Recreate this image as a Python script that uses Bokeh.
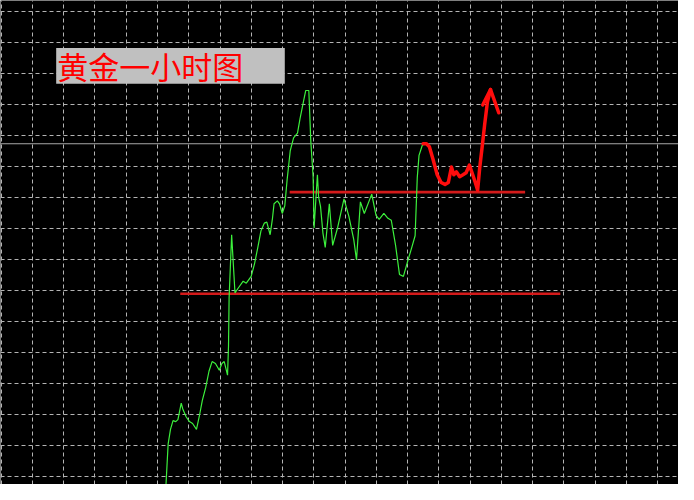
import numpy as np
from bokeh.plotting import figure
from bokeh.models import Range1d, FixedTicker, Span, Label, BoxAnnotation
from bokeh.embed import file_html
from bokeh.resources import INLINE

# ---- data (hour index, gold price) ----
hours = [84.7, 85.8, 87.0, 88.3, 89.7, 90.8, 92.5, 93.3, 95.0, 96.7, 98.3, 100.3,
         101.7, 103.3, 105.0, 106.7, 108.3, 110.0, 112.0, 113.3, 114.5, 116.2,
         116.7, 117.0, 118.3, 120.0, 121.7, 124.2, 125.8, 128.3, 130.0, 131.7,
         133.3, 135.0, 136.3, 138.0, 139.2, 140.0, 141.7, 142.8, 144.2, 145.5,
         146.7, 148.3, 150.0, 152.0, 153.3, 155.0, 156.2, 157.8, 158.8, 160.0,
         160.5, 161.2, 162.2, 162.8, 163.8, 165.0, 166.2, 168.3, 170.0, 172.5,
         175.8, 178.3, 180.8, 182.2, 184.2, 186.2, 190.0, 192.2, 193.8, 196.2,
         198.3, 200.0, 202.2, 204.2, 206.2, 208.3, 210.5, 212.2, 213.3, 214.2,
         215.8, 217.2]
close = [1310.0, 1314.2, 1315.7, 1316.6, 1316.5, 1316.7, 1318.4, 1317.8, 1317.0,
         1316.5, 1316.3, 1315.7, 1317.0, 1318.7, 1320.0, 1321.7, 1322.7, 1322.5,
         1321.8, 1322.5, 1322.7, 1321.3, 1324.3, 1329.3, 1335.8, 1329.8, 1330.3,
         1331.0, 1330.8, 1331.5, 1332.8, 1334.5, 1336.2, 1337.0, 1337.1, 1335.8,
         1337.5, 1339.0, 1339.3, 1339.0, 1338.0, 1338.8, 1341.5, 1344.5, 1345.8,
         1346.3, 1347.8, 1349.5, 1350.7, 1350.7, 1345.5, 1341.8, 1336.5, 1338.8,
         1342.0, 1339.7, 1338.7, 1336.0, 1334.5, 1339.0, 1334.7, 1336.5, 1339.5,
         1337.7, 1335.3, 1333.2, 1339.2, 1338.0, 1340.0, 1337.8, 1337.4, 1338.0,
         1337.5, 1337.3, 1334.7, 1331.7, 1331.5, 1333.0, 1334.5, 1335.7, 1341.7,
         1344.0, 1345.0, 1345.3]

forecast_hours = [216.3, 218.0, 219.5, 221.5, 223.5, 225.5, 227.5, 229.2, 230.8,
                  232.0, 233.3, 235.0, 236.7, 238.3, 240.0, 241.7, 243.0, 244.2,
                  245.3, 246.7, 247.8, 249.2, 250.8]
forecast_price = [1345.2, 1345.2, 1344.9, 1343.5, 1342.0, 1341.2, 1341.0, 1341.2,
                  1342.8, 1342.0, 1342.3, 1341.8, 1342.0, 1342.2, 1343.0, 1342.0,
                  1341.2, 1340.4, 1342.8, 1345.2, 1347.2, 1349.5, 1350.8]
arrow_head_hours = [246.8, 250.8, 255.0]
arrow_head_price = [1349.2, 1350.8, 1348.4]

level_price = [1340.2, 1329.7]
level_start = [148.0, 92.0]
level_end = [268.5, 286.5]

current_price = 1345.2
title_text = "黄金一小时图"
title_box = dict(left=28.5, right=145.5, bottom=1351.4, top=1355.1)

# ---- figure ----
p = figure(width=678, height=484, output_backend="svg", toolbar_location=None,
           x_range=Range1d(0, 347), y_range=Range1d(1310.0, 1360.0),
           x_axis_location=None, y_axis_location=None, min_border=0,
           background_fill_color="black", border_fill_color="black")
p.outline_line_color = None

p.xgrid.ticker = FixedTicker(ticks=list(0.35 + 16 * np.arange(0, 23)))
p.ygrid.ticker = FixedTicker(ticks=list(1358.87 - 3.2 * np.arange(0, 17)))
for g in (p.xgrid, p.ygrid):
    g.grid_line_color = "#b4b4b4"
    g.grid_line_dash = "4 3"
    g.grid_line_width = 1

p.add_layout(Span(location=current_price, dimension="width", line_color="#a8a8a8",
                  line_width=1, level="underlay"))

p.segment(x0=level_start, y0=level_price, x1=level_end, y1=level_price,
          line_color="#d41a1a", line_width=2.6)

p.line(hours, close, line_color="#3cf03c", line_width=1.2)

p.line(forecast_hours, forecast_price, line_color="#ff0d0d", line_width=3.5,
       line_join="round", line_cap="round")
p.line(arrow_head_hours, arrow_head_price, line_color="#ff0d0d", line_width=3.5,
       line_join="round", line_cap="round")

p.add_layout(BoxAnnotation(fill_color="#c0c0c0", fill_alpha=1.0, line_color=None,
                           **title_box))
p.add_layout(Label(x=29, y=1353.25, text=title_text, text_font="Noto Sans CJK SC",
                   text_font_size="31px", text_color="#ff0000",
                   text_baseline="middle"))

open("out.html", "w").write(file_html(p, INLINE))
